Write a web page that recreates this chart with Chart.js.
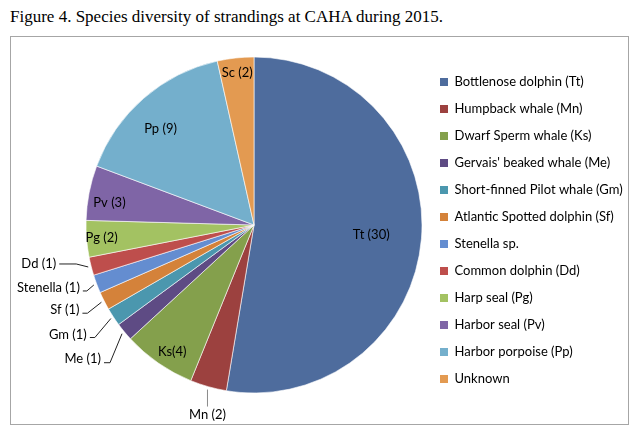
<!DOCTYPE html>
<html>
<head>
<meta charset="utf-8">
<script src="https://cdn.jsdelivr.net/npm/chart.js@4.4.1/dist/chart.umd.min.js"></script>
<style>
  html, body { margin: 0; padding: 0; background: #fff; }
  body { width: 638px; height: 440px; position: relative; overflow: hidden; }
  #title { position: absolute; left: 10px; top: 7px; font: 17px "Liberation Serif", "Times New Roman", serif; color: #000; white-space: nowrap; }
  #frame { position: absolute; left: 10px; top: 36px; width: 617px; height: 387px; border: 1px solid #a6a6a6; }
  #wrap { position: absolute; left: 0; top: 0; width: 638px; height: 440px; }
</style>
</head>
<body>
<div id="title">Figure 4. Species diversity of strandings at CAHA during 2015.</div>
<div id="frame"></div>
<div id="wrap"><canvas id="speciesChart"></canvas></div>
<script>
// Strandings at CAHA, 2015
const species = ['Bottlenose dolphin (Tt)', 'Humpback whale (Mn)', 'Dwarf Sperm whale (Ks)',
    "Gervais' beaked whale (Me)", 'Short-finned Pilot whale (Gm)', 'Atlantic Spotted dolphin (Sf)',
    'Stenella sp.', 'Common dolphin (Dd)', 'Harp seal (Pg)', 'Harbor seal (Pv)',
    'Harbor porpoise (Pp)', 'Unknown'];
const counts = [30, 2, 4, 1, 1, 1, 1, 1, 2, 3, 9, 2];
const sliceLabels = ['Tt (30)', 'Mn (2)', 'Ks(4)', 'Me (1)', 'Gm (1)', 'Sf (1)', 'Stenella (1)',
    'Dd (1)', 'Pg (2)', 'Pv (3)', 'Pp (9)', 'Sc (2)'];

const sliceColors = ['#4E6C9D', '#9C413F', '#84A04C', '#5E4B84', '#4B97AE', '#D4823A',
    '#648DD0', '#BE4E4C', '#A3C262', '#7F65A6', '#74AFCC', '#E39A51'];

// where each slice label goes: inside at a fraction of the radius,
// or outside with a leader line (elbow offset, then a horizontal run)
const labelPlacement = [
    { frac: 0.70 },
    { out: [0, 17], run: 0, color: '#8a8a8a' },
    { frac: 0.90, turn: -2 },
    { out: [-12, 29], run: -6, ty: -4 },
    { out: [-16, 19], run: -5, ty: -3 },
    { out: [-14, 11], run: -5, ty: -3 },
    { out: [-7, 6], run: -4, ty: -3 },
    { out: [-12, -3], run: -17, ty: 0 },
    { frac: 0.91 },
    { frac: 0.87, turn: -2.5 },
    { frac: 0.80, turn: -3 },
    { frac: 0.91 }
];

const sliceLabelPlugin = {
    id: 'sliceLabels',
    afterDatasetsDraw(chart) {
        const ctx = chart.ctx;
        const meta = chart.getDatasetMeta(0);
        ctx.save();
        ctx.font = '13px Lato';
        meta.data.forEach(function(arc, i) {
            const p = arc.getProps(['x', 'y', 'startAngle', 'endAngle', 'outerRadius'], true);
            const place = labelPlacement[i];
            let mid = (p.startAngle + p.endAngle) / 2;
            if (place.turn) mid += place.turn * Math.PI / 180;
            const cos = Math.cos(mid), sin = Math.sin(mid);
            ctx.fillStyle = '#000';
            if (place.frac) {
                ctx.textAlign = 'center';
                ctx.textBaseline = 'middle';
                ctx.fillText(sliceLabels[i], p.x + cos * p.outerRadius * place.frac, p.y + sin * p.outerRadius * place.frac);
                return;
            }
            const x0 = p.x + cos * (p.outerRadius + 3);
            const y0 = p.y + sin * (p.outerRadius + 3);
            const x1 = x0 + place.out[0], y1 = y0 + place.out[1];
            const x2 = x1 + place.run;
            ctx.strokeStyle = place.color || '#222';
            ctx.lineWidth = 1;
            ctx.beginPath();
            ctx.moveTo(x0, y0);
            ctx.lineTo(x1, y1);
            ctx.lineTo(x2, y1);
            ctx.stroke();
            if (place.out[0] === 0) {
                ctx.textAlign = 'center';
                ctx.textBaseline = 'top';
                ctx.fillText(sliceLabels[i], x2, y1 + 2);
            } else {
                ctx.textAlign = 'right';
                ctx.textBaseline = 'middle';
                ctx.fillText(sliceLabels[i], x2 - 3, y1 + (place.ty || 0));
            }
        });
        ctx.restore();
    }
};

document.addEventListener('DOMContentLoaded', function() {
    Chart.defaults.font.family = 'Lato';
    const baseLabels = Chart.overrides.pie.plugins.legend.labels.generateLabels;

    const ctx = document.getElementById('speciesChart').getContext('2d');
    const speciesChart = new Chart(ctx, {
        type: 'pie',
        data: {
            labels: species,
            datasets: [{
                data: counts,
                backgroundColor: sliceColors,
                borderColor: 'rgba(255, 255, 255, 0.75)',
                borderWidth: 0.8,
                radius: 168
            }]
        },
        options: {
            responsive: true,
            maintainAspectRatio: false,
            animation: false,
            layout: { padding: { left: 82, right: 0, top: 15, bottom: 5 } },
            plugins: {
                tooltip: { enabled: false },
                legend: {
                    position: 'right',
                    title: { display: true, text: '', font: { size: 1, lineHeight: 1 }, padding: { top: 10, bottom: 0 } },
                    labels: {
                        boxWidth: 8,
                        boxHeight: 8,
                        padding: 14,
                        color: '#000',
                        font: { family: 'Lato', size: 13 },
                        generateLabels: function(chart) {
                            return baseLabels(chart).map(function(item) {
                                item.lineWidth = 0;
                                return item;
                            });
                        }
                    }
                }
            }
        },
        plugins: [sliceLabelPlugin]
    });

    // keep the pie centred at x=254: chart area must end at 426
    const shift = speciesChart.chartArea.right - 426;
    if (Math.abs(shift) > 0.5) {
        speciesChart.options.layout.padding.right += shift;
        speciesChart.update();
    }
});
</script>
</body>
</html>
